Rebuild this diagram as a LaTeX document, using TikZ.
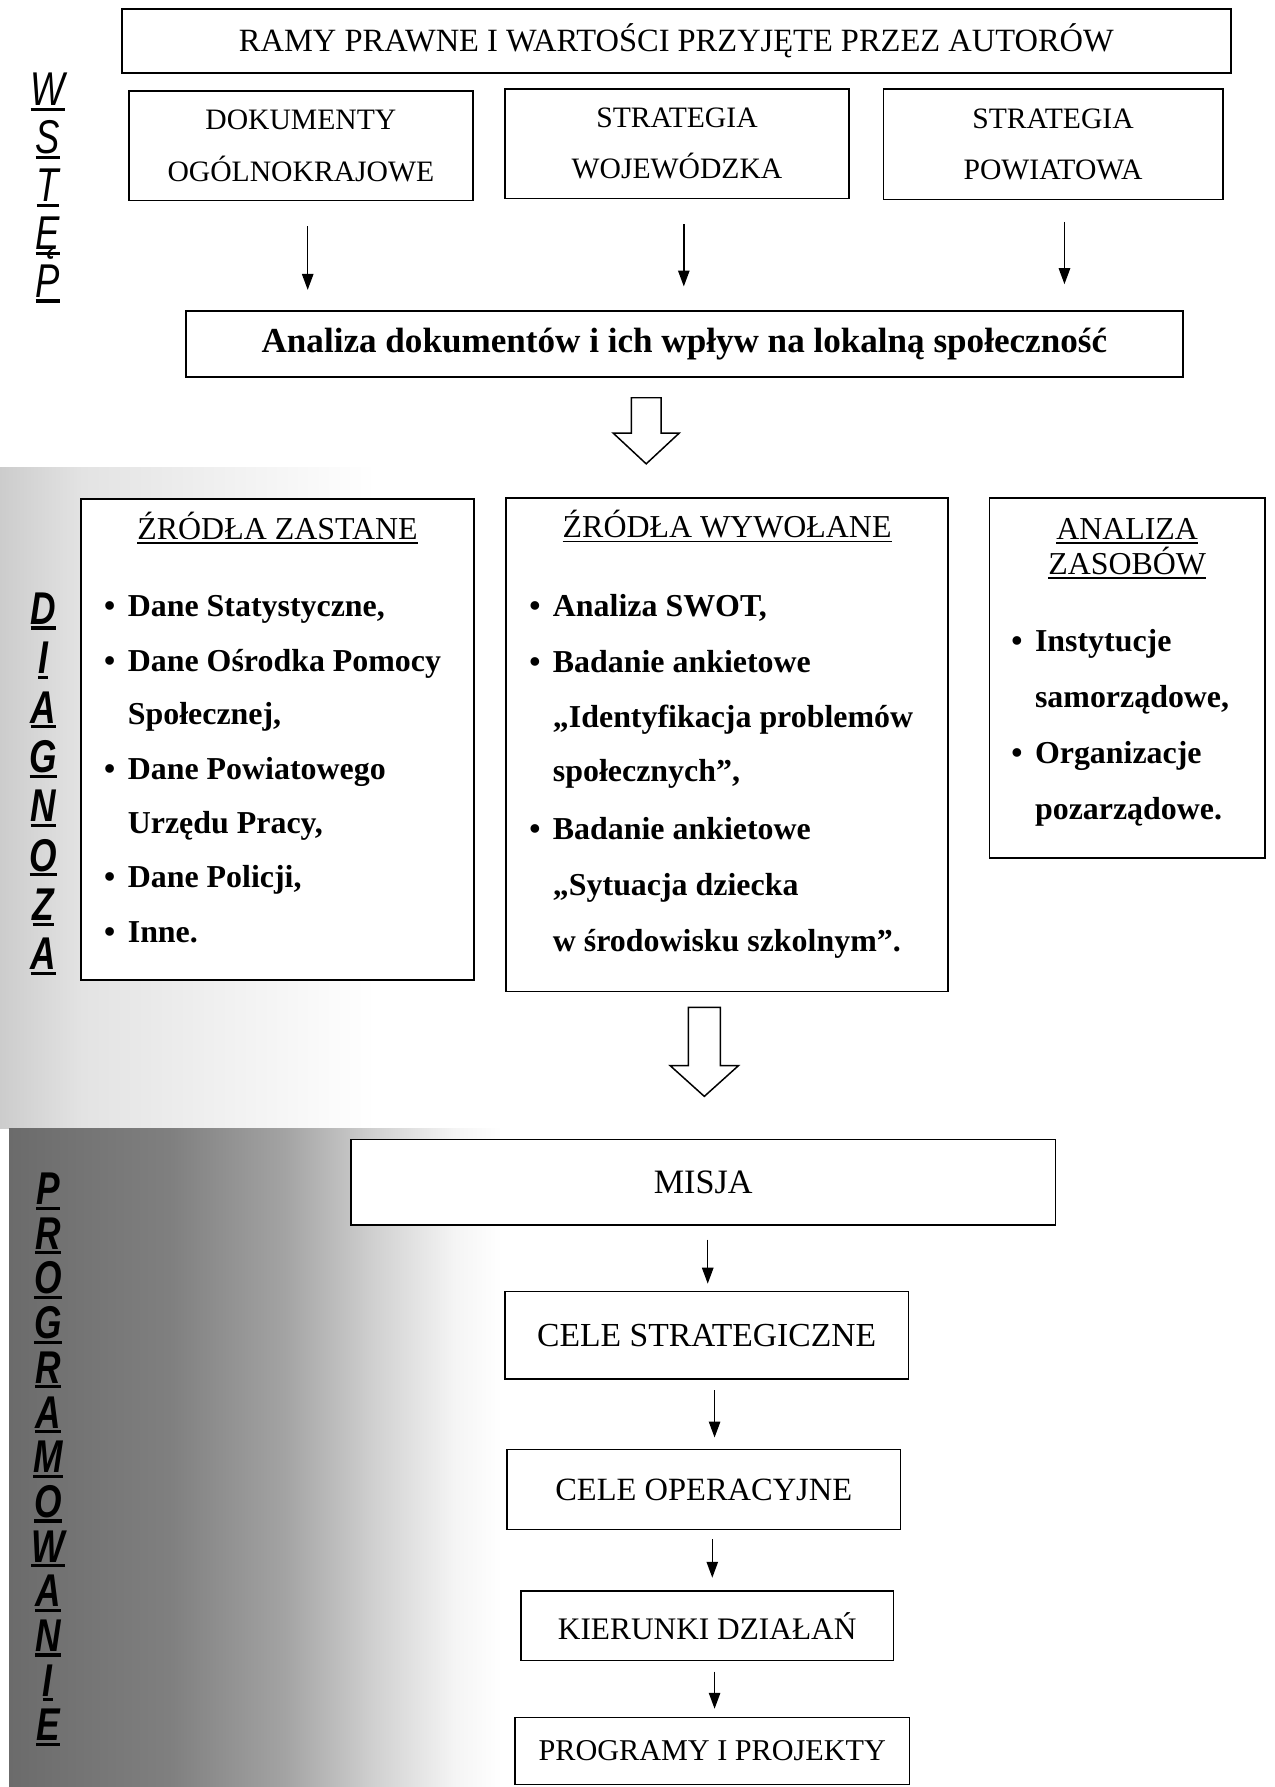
\documentclass[tikz,border=0pt]{standalone}
\usepackage{fontspec}
\setmainfont{Liberation Serif}
\newfontfamily\lsans{Liberation Sans}
\usepackage{graphicx}
\usetikzlibrary{arrows.meta}
\newcommand\bul{\llap{\textbullet\hspace{11pt}}}
\newcommand\lul[1]{\setbox0=\hbox{\scalebox{1}[1.3]{#1}}\rlap{\rule[-4.5pt]{\wd0}{2.8pt}}\box0}
\newcommand\tul[1]{\setbox0=\hbox{#1}\rlap{\rule[-4pt]{\wd0}{1.6pt}}\box0}
\begin{document}
\begin{tikzpicture}[x=1pt,y=-1pt,
  box/.style={draw=black, line width=1.3pt, fill=white, rectangle, inner sep=0pt, align=center},
  arr/.style={line width=1.3pt, -{Triangle[length=14pt,width=10pt]}},
  hollow/.style={draw=black, line width=1.3pt, fill=white, line join=miter},
  lbl/.style={inner sep=0pt, anchor=base, font=\lsans\itshape\fontsize{32}{32}\selectfont},
  lblb/.style={lbl, font=\lsans\bfseries\itshape\fontsize{31}{32}\selectfont},
  itm/.style={inner sep=0pt, anchor=base west, font=\bfseries\fontsize{28}{28}\selectfont},
  ttl/.style={inner sep=0pt, anchor=base, font=\fontsize{28}{32}\selectfont}]
\useasboundingbox (0,0) rectangle (1118,1568);
\fill[white] (0,0) rectangle (1118,1568);
% background shadings
\shade[left color=black!20, right color=black!11] (0,410) rectangle (72,990);
\shade[left color=black!11, right color=white] (72,410) rectangle (330,990);
\shade[left color=black!58, right color=black!50] (8,990) rectangle (150,1568);
\shade[left color=black!50, right color=black!36] (150,990) rectangle (250,1568);
\shade[left color=black!36, right color=black!18] (250,990) rectangle (330,1568);
\shade[left color=black!18, right color=black!4] (330,990) rectangle (400,1568);
\shade[left color=black!4, right color=white] (400,990) rectangle (440,1568);

% side labels
\foreach \c [count=\i] in {W,S,T,Ę,P}
  \node[lbl] (ws\i) at (42,{93+42*(\i-1)}) {\lul{\c}};
\foreach \c [count=\i] in {D,I,A,G,N,O,Z,A}
  \node[lblb] (dg\i) at (38,{548+43.3*(\i-1)}) {\lul{\c}};
\foreach \c [count=\i] in {P,R,O,G,R,A,M,O,W,A,N,I,E}
  \node[lblb] (pr\i) at (42,{1057+39.2*(\i-1)}) {\lul{\c}};

% top section
\node[box, minimum width=973pt, minimum height=56pt, font=\fontsize{28.5}{30}\selectfont] (ramy) at (593.5,36) {RAMY PRAWNE I WARTOŚCI PRZYJĘTE PRZEZ AUTORÓW};
\node[box, minimum width=302pt, minimum height=96pt, font=\fontsize{26}{45}\selectfont] (dok) at (264,128) {DOKUMENTY\\OGÓLNOKRAJOWE};
\node[box, minimum width=302pt, minimum height=96pt, font=\fontsize{26}{45}\selectfont] (woj) at (594,126) {STRATEGIA\\WOJEWÓDZKA};
\node[box, minimum width=298pt, minimum height=97pt, font=\fontsize{26}{45}\selectfont] (pow) at (924,126.5) {STRATEGIA\\POWIATOWA};
\node[box, minimum width=875pt, minimum height=58pt, font=\bfseries\fontsize{30.8}{32}\selectfont] (ana) at (600.5,302) {Analiza dokumentów i ich wpływ na lokalną społeczność};

\coordinate (x1) at (270,0);
\coordinate (x2) at (600,0);
\coordinate (x3) at (934,0);
\draw[arr, shorten <=22pt, shorten >=18pt] (dok.south -| x1) -- (ana.north -| x1);
\draw[arr, shorten <=22pt, shorten >=21pt] (woj.south -| x2) -- (ana.north -| x2);
\draw[arr, shorten <=19pt, shorten >=23pt] (pow.south -| x3) -- (ana.north -| x3);

% hollow arrow 1
\coordinate (h1) at (567,349);
\draw[hollow] (h1) ++(-13,0) -- ++(26,0) -- ++(0,31) -- ++(16,0) -- ++(-29,27) -- ++(-29,-27) -- ++(16,0) -- cycle;

% diagnosis boxes
\node[box, minimum width=345pt, minimum height=422pt] (zast) at (243.5,649) {};
\node[box, minimum width=388pt, minimum height=433pt] (wyw) at (638,653.5) {};
\node[box, minimum width=242pt, minimum height=316pt] (zas) at (989,595) {};

\node[ttl] (zastT) at (243.5,473) {\tul{ŹRÓDŁA ZASTANE}};
\node[itm] (z1) at (112,541) {\bul Dane Statystyczne,};
\node[itm] (z2) at (112,589) {\bul Dane Ośrodka Pomocy};
\node[itm] (z3) at (112,636) {Społecznej,};
\node[itm] (z4) at (112,684) {\bul Dane Powiatowego};
\node[itm] (z5) at (112,731) {Urzędu Pracy,};
\node[itm] (z6) at (112,779) {\bul Dane Policji,};
\node[itm] (z7) at (112,827) {\bul Inne.};

\node[ttl] (wywT) at (638,472) {\tul{ŹRÓDŁA WYWOŁANE}};
\node[itm] (w1) at (485,541) {\bul Analiza SWOT,};
\node[itm] (w2) at (485,590) {\bul Badanie ankietowe};
\node[itm] (w3) at (485,638) {„Identyfikacja problemów};
\node[itm] (w4) at (485,686) {społecznych”,};
\node[itm] (w5) at (485,737) {\bul Badanie ankietowe};
\node[itm] (w6) at (485,786) {„Sytuacja dziecka};
\node[itm] (w7) at (485,835) {w środowisku szkolnym”.};

\node[ttl] (zasT1) at (989,473) {\tul{ANALIZA}};
\node[ttl] (zasT2) at (989,504) {\tul{ZASOBÓW}};
\node[itm] (a1) at (908,572) {\bul Instytucje};
\node[itm] (a2) at (908,621) {samorządowe,};
\node[itm] (a3) at (908,670) {\bul Organizacje};
\node[itm] (a4) at (908,719) {pozarządowe.};

% hollow arrow 2
\coordinate (h2) at (618,884);
\draw[hollow] (h2) ++(-14,0) -- ++(28,0) -- ++(0,51) -- ++(16,0) -- ++(-30,27) -- ++(-30,-27) -- ++(16,0) -- cycle;

% programming section
\node[box, minimum width=618pt, minimum height=75pt, font=\fontsize{30}{32}\selectfont] (misja) at (617,1037.5) {MISJA};
\node[box, minimum width=354pt, minimum height=77pt, font=\fontsize{29.5}{32}\selectfont] (cs) at (620,1171.5) {CELE STRATEGICZNE};
\node[box, minimum width=345pt, minimum height=70pt, font=\fontsize{28.5}{32}\selectfont] (co) at (617.5,1307) {CELE OPERACYJNE};
\node[box, minimum width=327pt, minimum height=61pt, font=\fontsize{27.5}{32}\selectfont] (kd) at (620.5,1426.5) {KIERUNKI DZIAŁAŃ};
\node[box, minimum width=346pt, minimum height=59pt, font=\fontsize{26.5}{32}\selectfont] (pp) at (625,1536.5) {PROGRAMY I PROJEKTY};

\coordinate (x4) at (621,0);
\coordinate (x5) at (627,0);
\coordinate (x6) at (625,0);
\coordinate (x7) at (627,0);
\draw[arr, shorten <=12pt, shorten >=6pt] (misja.south -| x4) -- (cs.north -| x4);
\draw[arr, shorten <=9pt, shorten >=10pt] (cs.south -| x5) -- (co.north -| x5);
\draw[arr, shorten <=8pt, shorten >=11pt] (co.south -| x6) -- (kd.north -| x6);
\draw[arr, shorten <=9pt, shorten >=7pt] (kd.south -| x7) -- (pp.north -| x7);
\end{tikzpicture}
\end{document}
